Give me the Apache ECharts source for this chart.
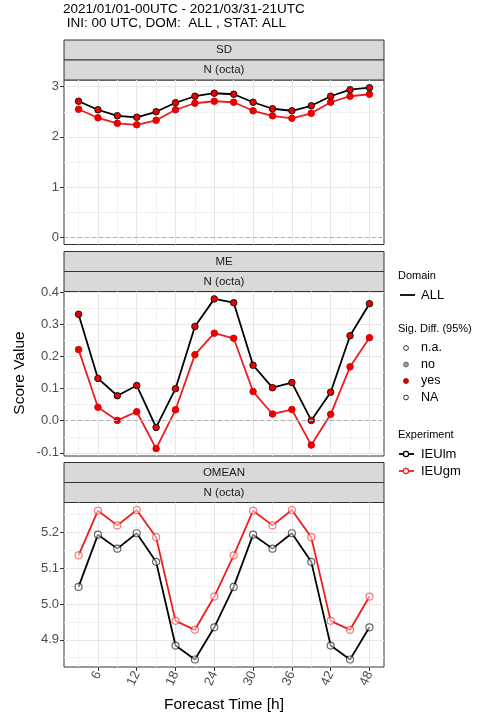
<!DOCTYPE html>
<html>
<head>
<meta charset="utf-8">
<script src="https://cdn.jsdelivr.net/npm/echarts@6.0.0/dist/echarts.min.js"></script>
<style>
html, body { margin: 0; padding: 0; background: #fff; }
#main { width: 481px; height: 719px; }
</style>
</head>
<body>
<div id="main"></div>
<script>
let hours = [3, 6, 9, 12, 15, 18, 21, 24, 27, 30, 33, 36, 39, 42, 45, 48];

let sdIEUlm = [2.71, 2.54, 2.42, 2.39, 2.50, 2.68, 2.81, 2.87, 2.85, 2.69, 2.56, 2.52, 2.62, 2.81, 2.94, 2.98];
let sdIEUgm = [2.55, 2.38, 2.27, 2.24, 2.33, 2.54, 2.67, 2.71, 2.69, 2.52, 2.42, 2.37, 2.47, 2.69, 2.81, 2.85];
let meIEUlm = [0.332, 0.132, 0.078, 0.110, -0.021, 0.100, 0.294, 0.380, 0.368, 0.173, 0.103, 0.119, 0.001, 0.089, 0.265, 0.365];
let meIEUgm = [0.222, 0.042, 0.001, 0.028, -0.087, 0.034, 0.206, 0.273, 0.257, 0.091, 0.021, 0.035, -0.076, 0.020, 0.168, 0.259];
let omIEUlm = [5.048, 5.194, 5.155, 5.198, 5.118, 4.884, 4.845, 4.935, 5.048, 5.194, 5.155, 5.198, 5.118, 4.884, 4.845, 4.935];
let omIEUgm = [5.136, 5.261, 5.220, 5.263, 5.187, 4.953, 4.928, 5.021, 5.136, 5.261, 5.220, 5.263, 5.187, 4.953, 4.928, 5.021];

let xMajor = [6, 12, 18, 24, 30, 36, 42, 48];
let xMinor = [3, 9, 15, 21, 27, 33, 39, 45];
let sdTicks = [0, 1, 2, 3];
let sdMinor = [0.5, 1.5, 2.5];
let meTicks = [-0.1, 0, 0.1, 0.2, 0.3, 0.4];
let meMinor = [-0.05, 0.05, 0.15, 0.25, 0.35];
let omTicks = [4.9, 5.0, 5.1, 5.2];
let omMinor = [4.85, 4.95, 5.05, 5.15, 5.25];

let panelNames = ['SD', 'ME', 'OMEAN'];
let unitName = 'N (octa)';
let experiments = ['IEUlm', 'IEUgm'];
let sigLevels = ['n.a.', 'no', 'yes', 'NA'];

let FONT = '"Liberation Sans", Arial, sans-serif';
let RED = '#ee1d1d';

window.onload = function () {
  init()
}

function pairs(ys) {
  return hours.map(function (h, i) { return [h, ys[i]] })
}

function init() {
  let tops = [80, 291.5, 502.5];
  let plotH = 164.5;
  let yRange = [[-0.149, 3.134], [-0.110, 0.403], [4.824, 5.284]];
  let yMajor = [sdTicks, meTicks, omTicks];
  let yMinor = [sdMinor, meMinor, omMinor];
  let blk = [sdIEUlm, meIEUlm, omIEUlm];
  let red = [sdIEUgm, meIEUgm, omIEUgm];
  let fmt = [
    function (v) { return String(Math.round(v)) },
    function (v) { return v.toFixed(1) },
    function (v) { return v.toFixed(1) }
  ];

  let grid = [], xAxis = [], yAxis = [], series = [], graphic = [];

  for (let i = 0; i < 3; i++) {
    grid.push({
      left: 64, width: 320, top: tops[i], height: plotH,
      show: true, backgroundColor: '#fff', borderColor: '#333', borderWidth: 1
    });
    let bottom = i === 2;
    // major x
    xAxis.push({
      type: 'value', gridIndex: i, min: 0.75, max: 50.25,
      axisLine: { show: false },
      axisTick: { show: bottom, customValues: xMajor, length: 4, lineStyle: { color: '#333' } },
      axisLabel: { show: bottom, customValues: xMajor, rotate: 65, margin: 5, color: '#4d4d4d', fontSize: 13, fontFamily: FONT },
      splitLine: { show: true, lineStyle: { color: '#e6e6e6', width: 1 } },
      name: bottom ? 'Forecast Time [h]' : '',
      nameLocation: 'middle', nameGap: 30,
      nameTextStyle: { color: '#000', fontSize: 15.5, fontFamily: FONT }
    });
    // minor x
    xAxis.push({
      type: 'value', gridIndex: i, min: 0.75, max: 50.25,
      axisLine: { show: false },
      axisTick: { show: false, customValues: xMinor },
      axisLabel: { show: false, customValues: xMinor },
      splitLine: { show: true, lineStyle: { color: '#f2f2f2', width: 1 } }
    });
    yAxis.push({
      type: 'value', gridIndex: i, min: yRange[i][0], max: yRange[i][1],
      axisLine: { show: false },
      axisTick: { show: true, customValues: yMajor[i], length: 4, lineStyle: { color: '#333' } },
      axisLabel: { show: true, customValues: yMajor[i], margin: 5, color: '#4d4d4d', fontSize: 13, fontFamily: FONT, formatter: fmt[i] },
      splitLine: { show: true, lineStyle: { color: '#e6e6e6', width: 1 } }
    });
    yAxis.push({
      type: 'value', gridIndex: i, min: yRange[i][0], max: yRange[i][1],
      axisLine: { show: false },
      axisTick: { show: false, customValues: yMinor[i] },
      axisLabel: { show: false, customValues: yMinor[i] },
      splitLine: { show: true, lineStyle: { color: '#f2f2f2', width: 1 } }
    });

    let open = i === 2;
    series.push({
      name: 'IEUgm', type: 'line', xAxisIndex: 2 * i, yAxisIndex: 2 * i,
      data: pairs(red[i]), symbol: 'circle', symbolSize: open ? 7 : 6.5,
      lineStyle: { color: RED, width: 1.8 },
      itemStyle: open
        ? { color: 'rgba(255,255,255,0.5)', borderColor: 'rgba(240,30,30,0.6)', borderWidth: 1.2 }
        : { color: '#ee0000', borderColor: '#e00000', borderWidth: 1 },
      z: 3
    });
    let s = {
      name: 'IEUlm', type: 'line', xAxisIndex: 2 * i, yAxisIndex: 2 * i,
      data: pairs(blk[i]), symbol: 'circle', symbolSize: open ? 7 : 6.5,
      lineStyle: { color: '#000', width: 1.8 },
      itemStyle: open
        ? { color: 'rgba(255,255,255,0.5)', borderColor: 'rgba(0,0,0,0.6)', borderWidth: 1.2 }
        : { color: '#ee0000', borderColor: '#111', borderWidth: 1 },
      z: 4
    };
    if (!open) {
      s.markLine = {
        silent: true, symbol: 'none', label: { show: false },
        lineStyle: { color: '#b0b0b0', type: [4, 3], width: 1 },
        data: [{ yAxis: 0 }]
      };
    }
    series.push(s);

    // facet strips
    let st = tops[i] - 40;
    [panelNames[i], unitName].forEach(function (t, k) {
      graphic.push({
        type: 'rect', shape: { x: 64, y: st + 20 * k, width: 320, height: 20 },
        style: { fill: '#d9d9d9', stroke: '#333', lineWidth: 1 }
      });
      graphic.push({
        type: 'text', x: 224, y: st + 20 * k + 10,
        style: { text: t, fill: '#1a1a1a', font: '11.5px ' + FONT, textAlign: 'center', textVerticalAlign: 'middle' }
      });
    });
  }

  graphic.push({
    type: 'text', x: 20, y: 373, rotation: Math.PI / 2,
    style: { text: 'Score Value', fill: '#000', font: '15.5px ' + FONT, textAlign: 'center', textVerticalAlign: 'middle' }
  });

  // legend (drawn by hand, ggplot style)
  let lx = 398, tx = 421, sx = 406;
  function label(t, y, size) {
    graphic.push({ type: 'text', x: tx, y: y, style: { text: t, fill: '#000', font: size + 'px ' + FONT, textVerticalAlign: 'middle' } });
  }
  function head(t, y) {
    graphic.push({ type: 'text', x: lx, y: y, style: { text: t, fill: '#000', font: '11px ' + FONT, textVerticalAlign: 'middle' } });
  }
  head('Domain', 276);
  graphic.push({ type: 'line', shape: { x1: 400, y1: 295, x2: 415, y2: 295 }, style: { stroke: '#000', lineWidth: 1.8 } });
  label('ALL', 295, 13);

  head('Sig. Diff. (95%)', 329);
  let sigFill = ['#fff', '#999', '#ee0000', '#fff'];
  let sigStroke = ['#333', '#666', '#800', '#333'];
  let sigY = [348, 364.5, 381, 397.5];
  sigLevels.forEach(function (t, k) {
    graphic.push({ type: 'circle', shape: { cx: sx, cy: sigY[k], r: 2.4 }, style: { fill: sigFill[k], stroke: sigStroke[k], lineWidth: 1 } });
    label(t, sigY[k], 12.5);
  });

  head('Experiment', 435);
  let expCol = ['#000', RED];
  let expY = [454, 471];
  experiments.forEach(function (t, k) {
    graphic.push({ type: 'line', shape: { x1: 399, y1: expY[k], x2: 414, y2: expY[k] }, style: { stroke: expCol[k], lineWidth: 1.8 } });
    graphic.push({ type: 'circle', shape: { cx: sx, cy: expY[k], r: 2.6 }, style: { fill: '#fff', stroke: expCol[k], lineWidth: 1.2 } });
    label(t, expY[k], 13);
  });

  let chart = echarts.init(document.getElementById('main'));
  chart.setOption({
    animation: false,
    backgroundColor: '#fff',
    title: {
      text: '2021/01/01-00UTC - 2021/03/31-21UTC\n INI: 00 UTC, DOM:  ALL , STAT: ALL',
      left: 63, top: 2, padding: 0,
      textStyle: { color: '#000', fontSize: 13.5, fontWeight: 'normal', fontFamily: FONT, lineHeight: 14.5 }
    },
    grid: grid,
    xAxis: xAxis,
    yAxis: yAxis,
    series: series,
    graphic: graphic
  });
}
</script>
</body>
</html>
